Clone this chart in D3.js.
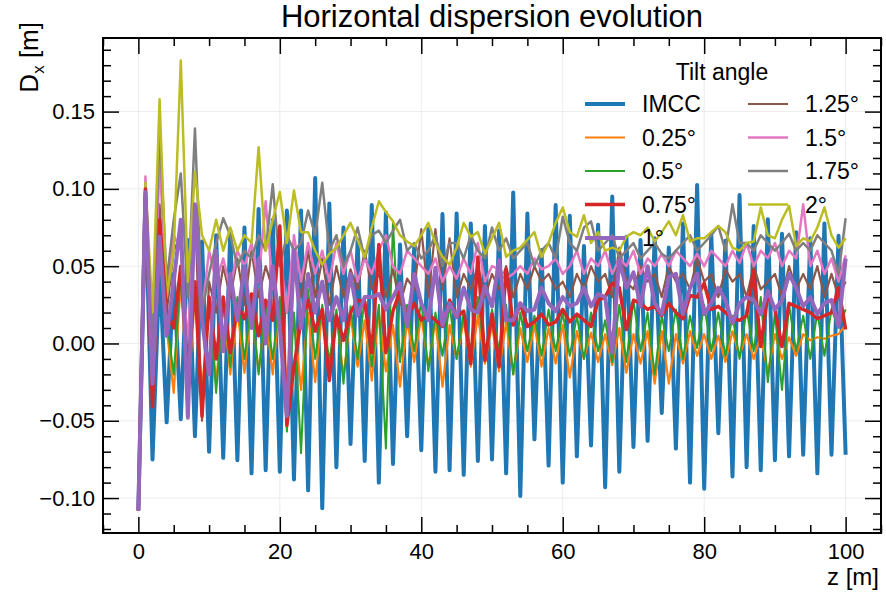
<!DOCTYPE html>
<html>
<head>
<meta charset="utf-8">
<script src="https://cdn.jsdelivr.net/npm/d3@7"></script>
<style>
  body { margin: 0; background: #fff; }
  svg text { font-family: "Liberation Sans", Arial, sans-serif; fill: #000; }
</style>
</head>
<body>
<svg id="chart"></svg>
<script>
// positions along the beamline, 1 m steps
var zPos = [0,1,2,3,4,5,6,7,8,9,10,11,12,13,14,15,16,17,18,19,20,21,22,23,24,25,26,27,28,29,30,31,32,33,34,35,36,37,38,39,40,41,42,43,44,45,46,47,48,49,50,
  51,52,53,54,55,56,57,58,59,60,61,62,63,64,65,66,67,68,69,70,71,72,73,74,75,76,77,78,79,80,81,82,83,84,85,86,87,88,89,90,91,92,93,94,95,96,97,98,99,100];

var dxIMCC = [-0.108,0.095,-0.075,0.050,-0.051,0.045,-0.049,0.067,-0.060,0.066,-0.070,0.070,-0.074,0.073,-0.0755,0.075,-0.084,0.087,-0.082,0.080,-0.083,
  0.086,-0.088,0.086,-0.095,0.107,-0.1066,0.0905,-0.080,0.075,-0.065,0.067,-0.076,0.0896,-0.090,0.0847,-0.078,0.064,-0.060,0.063,-0.069,
  0.074,-0.083,0.0837,-0.082,0.084,-0.085,0.0776,-0.076,0.076,-0.075,0.073,-0.084,0.0976,-0.0987,0.084,-0.062,0.0605,-0.079,0.0896,-0.090,
  0.0826,-0.073,0.063,-0.066,0.0768,-0.093,0.095,-0.083,0.069,-0.067,0.067,-0.063,0.068,-0.045,0.062,-0.068,0.0776,-0.090,0.1025,-0.094,
  0.0708,-0.058,0.0665,-0.086,0.096,-0.080,0.076,-0.082,0.0804,-0.0755,0.071,-0.073,0.072,-0.072,0.068,-0.084,0.0776,-0.072,0.0697,-0.072];

var dx025 = [-0.108,0.095,-0.030,0.060,0.010,-0.032,0.040,-0.035,0.030,-0.030,0.025,-0.025,0.025,-0.020,0.022,-0.019,0.025,-0.018,0.020,-0.020,0.028,
  -0.030,0.018,-0.030,0.020,-0.025,0.022,-0.020,0.020,-0.022,0.018,-0.015,0.015,-0.024,0.020,-0.018,0.012,-0.028,0.015,-0.012,0.018,
  -0.015,0.015,-0.028,0.012,-0.010,0.015,-0.015,0.018,-0.013,0.012,-0.018,0.014,-0.020,0.010,-0.012,0.012,-0.015,0.010,-0.013,0.012,
  -0.022,0.008,-0.010,0.007,-0.012,0.006,-0.014,0.010,-0.019,0.006,-0.013,0.008,-0.026,0.008,-0.026,0.006,-0.013,0.008,-0.008,0.006,
  -0.010,0.005,-0.012,0.008,-0.008,0.006,-0.010,0.005,-0.019,0.006,-0.010,0.004,-0.008,0.006,0.002,0.004,0.003,0.005,0.006,0.012];

var dx050 = [-0.108,0.097,-0.035,0.065,0.015,-0.020,0.045,-0.030,0.035,-0.040,0.030,-0.032,0.028,-0.015,0.030,-0.010,0.028,-0.020,0.025,-0.010,0.030,
  -0.057,0.020,-0.071,0.035,-0.010,0.025,-0.012,0.022,-0.026,0.024,-0.010,0.030,-0.015,0.025,-0.068,0.078,-0.012,0.025,-0.005,0.028,
  -0.018,0.020,-0.008,0.025,-0.010,0.020,-0.005,0.030,-0.010,0.022,-0.005,0.025,-0.020,0.020,-0.005,0.018,-0.008,0.022,-0.005,0.020,
  -0.008,0.018,-0.010,0.020,-0.005,0.015,-0.012,0.025,-0.012,0.028,-0.005,0.020,-0.020,0.018,-0.005,0.022,-0.010,0.018,-0.003,0.025,
  -0.005,0.020,-0.008,0.018,-0.010,0.022,-0.005,0.030,-0.025,0.020,-0.030,0.025,-0.005,0.018,-0.010,0.020,-0.008,0.022,0.010,0.022];

var dx075 = [-0.108,0.100,-0.041,0.080,0.020,0.010,0.050,-0.020,0.040,-0.047,0.030,-0.010,0.030,-0.006,0.025,0.016,0.032,0.005,0.028,0.015,0.076,
  -0.053,-0.015,0.015,0.028,0.008,0.022,-0.024,0.018,0.002,0.020,0.028,0.027,-0.006,0.064,-0.006,0.021,0.034,0.017,0.026,0.015,
  0.019,0.015,0.011,0.028,0.017,0.021,-0.013,0.056,-0.011,0.019,-0.015,0.048,0.012,0.026,0.011,0.014,0.019,0.012,0.014,0.022,
  0.014,0.019,0.015,0.011,0.028,0.030,0.039,0.036,0.009,0.028,0.026,0.022,0.024,0.018,0.026,0.020,0.016,0.031,0.030,0.039,
  0.022,0.024,0.020,0.016,0.015,0.018,0.047,-0.002,0.032,0.022,-0.002,0.026,0.024,0.022,0.020,0.016,0.018,0.020,0.036,0.009];

var dx100 = [-0.108,0.098,-0.026,0.069,0.005,0.040,0.080,-0.048,0.090,0.015,-0.020,0.060,-0.005,0.045,0.015,0.050,0.010,0.055,0.000,0.050,0.010,
  -0.047,0.060,0.010,0.045,0.020,0.040,0.015,0.030,0.015,0.045,0.018,0.030,0.030,0.032,0.022,0.030,0.039,0.011,0.045,0.026,
  0.015,0.049,0.012,0.026,0.017,0.036,0.022,0.020,0.037,0.024,0.054,0.015,0.015,0.026,0.021,0.022,0.036,0.026,0.021,0.030,
  0.024,0.026,0.036,0.024,0.032,0.030,-0.006,0.054,0.036,0.046,0.024,0.050,0.026,0.019,0.043,0.045,0.019,0.036,0.045,0.019,
  0.026,0.036,0.028,0.013,0.026,0.030,0.028,0.019,0.034,0.022,0.028,0.045,0.036,0.024,0.030,0.019,0.026,0.028,0.011,0.055];

var dx125 = [-0.108,0.100,-0.030,0.090,0.020,0.060,0.070,-0.010,0.090,-0.050,0.040,0.020,0.050,0.030,0.055,0.025,0.060,0.030,0.050,0.035,0.060,
  0.020,0.050,0.030,0.060,0.030,0.055,0.025,0.050,0.030,0.048,0.035,0.060,0.035,0.045,0.030,0.048,0.025,0.042,0.035,0.074,
  0.030,0.074,0.035,0.068,0.030,0.045,0.035,0.050,0.030,0.045,0.035,0.050,0.030,0.045,0.035,0.050,0.040,0.045,0.035,0.040,
  0.030,0.045,0.035,0.050,0.040,0.045,0.030,0.062,0.040,0.035,0.050,0.040,0.045,0.030,0.050,0.040,0.045,0.035,0.055,0.040,
  0.045,0.030,0.048,0.040,0.045,0.030,0.050,0.035,0.040,0.045,0.030,0.050,0.035,0.045,0.035,0.050,0.030,0.045,0.030,0.040];

var dx150 = [-0.108,0.108,-0.020,0.120,0.030,0.070,0.060,0.000,0.090,0.020,0.060,0.040,0.055,0.035,0.060,0.050,0.065,0.040,0.092,0.035,0.060,
  0.020,0.070,0.040,0.065,0.045,0.060,0.040,0.065,0.045,0.060,0.040,0.055,0.045,0.060,0.070,0.050,0.045,0.060,0.055,0.050,
  0.045,0.055,0.040,0.050,0.042,0.055,0.045,0.065,0.040,0.050,0.048,0.042,0.045,0.050,0.045,0.055,0.048,0.050,0.055,0.045,
  0.050,0.060,0.045,0.055,0.050,0.060,0.045,0.055,0.050,0.060,0.045,0.055,0.050,0.058,0.050,0.060,0.055,0.050,0.058,0.050,
  0.060,0.055,0.050,0.060,0.052,0.065,0.050,0.060,0.055,0.065,0.050,0.060,0.055,0.090,0.050,0.060,0.045,0.055,0.040,0.057];

var dx175 = [-0.108,0.100,0.000,0.140,0.040,0.080,0.110,0.030,0.139,0.020,0.045,0.065,0.081,0.070,0.050,0.060,0.055,0.070,0.060,0.103,0.050,
  0.070,0.060,0.065,0.086,0.070,0.104,0.060,0.070,0.050,0.060,0.075,0.055,0.070,0.073,0.065,0.073,0.080,0.060,0.065,0.055,
  0.060,0.070,0.050,0.065,0.065,0.055,0.070,0.060,0.055,0.075,0.060,0.068,0.055,0.060,0.065,0.050,0.060,0.065,0.055,0.082,
  0.065,0.060,0.075,0.079,0.060,0.065,0.070,0.055,0.060,0.065,0.055,0.060,0.065,0.058,0.055,0.060,0.065,0.070,0.060,0.065,
  0.070,0.076,0.060,0.090,0.065,0.065,0.060,0.070,0.065,0.060,0.065,0.071,0.060,0.065,0.060,0.070,0.065,0.060,0.045,0.081];

var dx200 = [-0.108,0.104,0.020,0.158,0.030,0.060,0.183,0.040,0.111,0.070,0.060,0.080,0.060,0.075,0.060,0.070,0.065,0.127,0.060,0.080,0.098,
  0.065,0.099,0.072,0.072,0.060,0.051,0.058,0.062,0.070,0.078,0.067,0.056,0.075,0.092,0.085,0.079,0.070,0.066,0.063,0.070,
  0.078,0.065,0.056,0.051,0.062,0.078,0.069,0.072,0.058,0.068,0.078,0.056,0.060,0.062,0.067,0.072,0.056,0.065,0.078,0.088,
  0.072,0.069,0.083,0.065,0.072,0.060,0.062,0.060,0.069,0.072,0.070,0.075,0.066,0.072,0.079,0.070,0.083,0.066,0.068,0.068,
  0.072,0.076,0.072,0.062,0.060,0.065,0.066,0.088,0.070,0.068,0.080,0.089,0.063,0.068,0.066,0.075,0.088,0.070,0.062,0.068];

var seriesNames = ["IMCC", "0.25°", "0.5°", "0.75°", "1°", "1.25°", "1.5°", "1.75°", "2°"];
var seriesValues = [dxIMCC, dx025, dx050, dx075, dx100, dx125, dx150, dx175, dx200];
var seriesColors = ["#1f77b4", "#ff7f0e", "#2ca02c", "#d62728", "#9467bd", "#8c564b", "#e377c2", "#7f7f7f", "#bcbd22"];
var seriesWidths = [4, 2.2, 2, 3.5, 4, 2.2, 2.5, 2.5, 2.5];
// order of drawing (thick tilt lines last)
var drawOrder = [0, 1, 2, 5, 6, 7, 8, 3, 4];

var xTicks = [0, 20, 40, 60, 80, 100];
var yTicks = [-0.10, -0.05, 0.00, 0.05, 0.10, 0.15];
var yTickLabels = ["\u22120.10", "\u22120.05", "0.00", "0.05", "0.10", "0.15"];

var width = 886, height = 596;
var mLeft = 103, mRight = 881, mTop = 38, mBottom = 533;

var svg = d3.select("#chart").attr("width", width).attr("height", height);
svg.append("rect").attr("width", width).attr("height", height).attr("fill", "#fff");

var xScale = d3.scaleLinear().domain([-5, 105]).range([mLeft, mRight]);
var yScale = d3.scaleLinear().domain([-0.1226, 0.1976]).range([mBottom, mTop]);

svg.append("clipPath").attr("id", "clip")
  .append("rect").attr("x", mLeft).attr("y", mTop).attr("width", mRight - mLeft).attr("height", mBottom - mTop);

// light grid
var grid = svg.append("g");
grid.selectAll(".gx").data(xTicks).enter().append("line")
  .attr("x1", function(d){return xScale(d)}).attr("x2", function(d){return xScale(d)})
  .attr("y1", mTop).attr("y2", mBottom)
  .style("stroke", "#ececec").style("stroke-width", 1);
grid.selectAll(".gy").data(yTicks).enter().append("line")
  .attr("y1", function(d){return yScale(d)}).attr("y2", function(d){return yScale(d)})
  .attr("x1", mLeft).attr("x2", mRight)
  .style("stroke", "#ececec").style("stroke-width", 1);

// lines
var plot = svg.append("g").attr("clip-path", "url(#clip)");
var pathGenerator = d3.line()
  .x(function(d){return xScale(d[0])})
  .y(function(d){return yScale(d[1])});

drawOrder.forEach(function(i){
  var pts = zPos.map(function(z, k){return [z, seriesValues[i][k]]});
  plot.append("path")
    .datum(pts)
    .attr("d", pathGenerator)
    .style("fill", "none")
    .style("stroke", seriesColors[i])
    .style("stroke-width", seriesWidths[i])
    .style("stroke-linejoin", "round");
});

// axes, ticks pointing inwards on all four sides
var majorLen = 16, minorLen = 8;
var xMinor = [-5, 5, 10, 15, 25, 30, 35, 45, 50, 55, 65, 70, 75, 85, 90, 95, 105];
var yMinor = [-0.12, -0.11, -0.09, -0.08, -0.07, -0.06, -0.04, -0.03, -0.02, -0.01, 0.01, 0.02, 0.03, 0.04,
  0.06, 0.07, 0.08, 0.09, 0.11, 0.12, 0.13, 0.14, 0.16, 0.17, 0.18, 0.19];

var axisBottom = d3.axisBottom(xScale).tickValues(xTicks).tickSize(-majorLen).tickPadding(10).tickFormat(d3.format("d"));
var axisTop = d3.axisTop(xScale).tickValues(xTicks).tickSize(-majorLen).tickFormat("");
var axisLeft = d3.axisLeft(yScale).tickValues(yTicks).tickSize(-majorLen).tickPadding(8)
  .tickFormat(function(d, i){return yTickLabels[i]});
var axisRight = d3.axisRight(yScale).tickValues(yTicks).tickSize(-majorLen).tickFormat("");

function styleAxis(g){
  g.select(".domain").remove();
  g.selectAll(".tick line").style("stroke", "#000").style("stroke-width", 1.5);
  g.selectAll(".tick text").style("font-size", "22px").style("font-family", "'Liberation Sans', Arial, sans-serif");
}

svg.append("g").attr("transform", "translate(0," + mBottom + ")").call(axisBottom).call(styleAxis);
svg.append("g").attr("transform", "translate(0," + mTop + ")").call(axisTop).call(styleAxis);
svg.append("g").attr("transform", "translate(" + mLeft + ",0)").call(axisLeft).call(styleAxis);
svg.append("g").attr("transform", "translate(" + mRight + ",0)").call(axisRight).call(styleAxis);

svg.append("g").attr("transform", "translate(0," + mBottom + ")")
  .call(d3.axisBottom(xScale).tickValues(xMinor).tickSize(-minorLen).tickFormat("")).call(styleAxis);
svg.append("g").attr("transform", "translate(0," + mTop + ")")
  .call(d3.axisTop(xScale).tickValues(xMinor).tickSize(-minorLen).tickFormat("")).call(styleAxis);
svg.append("g").attr("transform", "translate(" + mLeft + ",0)")
  .call(d3.axisLeft(yScale).tickValues(yMinor).tickSize(-minorLen).tickFormat("")).call(styleAxis);
svg.append("g").attr("transform", "translate(" + mRight + ",0)")
  .call(d3.axisRight(yScale).tickValues(yMinor).tickSize(-minorLen).tickFormat("")).call(styleAxis);

// frame
svg.append("rect").attr("x", mLeft).attr("y", mTop).attr("width", mRight - mLeft).attr("height", mBottom - mTop)
  .style("fill", "none").style("stroke", "#000").style("stroke-width", 2);

// title and labels
svg.append("text").attr("x", (mLeft + mRight) / 2).attr("y", 27).attr("text-anchor", "middle")
  .style("font-size", "31px").text("Horizontal dispersion evolution");

var yLab = svg.append("text").attr("transform", "translate(38,22) rotate(-90)").attr("text-anchor", "end")
  .style("font-size", "26px");
yLab.append("tspan").text("D");
yLab.append("tspan").attr("dy", 6).style("font-size", "17px").text("x");
yLab.append("tspan").attr("dy", -6).text(" [m]");

svg.append("text").attr("x", mRight - 2).attr("y", 585).attr("text-anchor", "end")
  .style("font-size", "24px").text("z [m]");

// legend, two columns
var legend = svg.append("g");
legend.append("text").attr("x", 722).attr("y", 80).attr("text-anchor", "middle")
  .style("font-size", "23px").text("Tilt angle");
var colX = [585, 748], rowY0 = 104, rowStep = 33.5;
seriesNames.forEach(function(name, i){
  var col = i < 5 ? 0 : 1, row = i < 5 ? i : i - 5;
  var y = rowY0 + row * rowStep;
  legend.append("line").attr("x1", colX[col]).attr("x2", colX[col] + 40).attr("y1", y).attr("y2", y)
    .style("stroke", seriesColors[i]).style("stroke-width", seriesWidths[i]);
  legend.append("text").attr("x", colX[col] + 57).attr("y", y + 8)
    .style("font-size", "23px").text(name);
});
</script>
</body>
</html>
